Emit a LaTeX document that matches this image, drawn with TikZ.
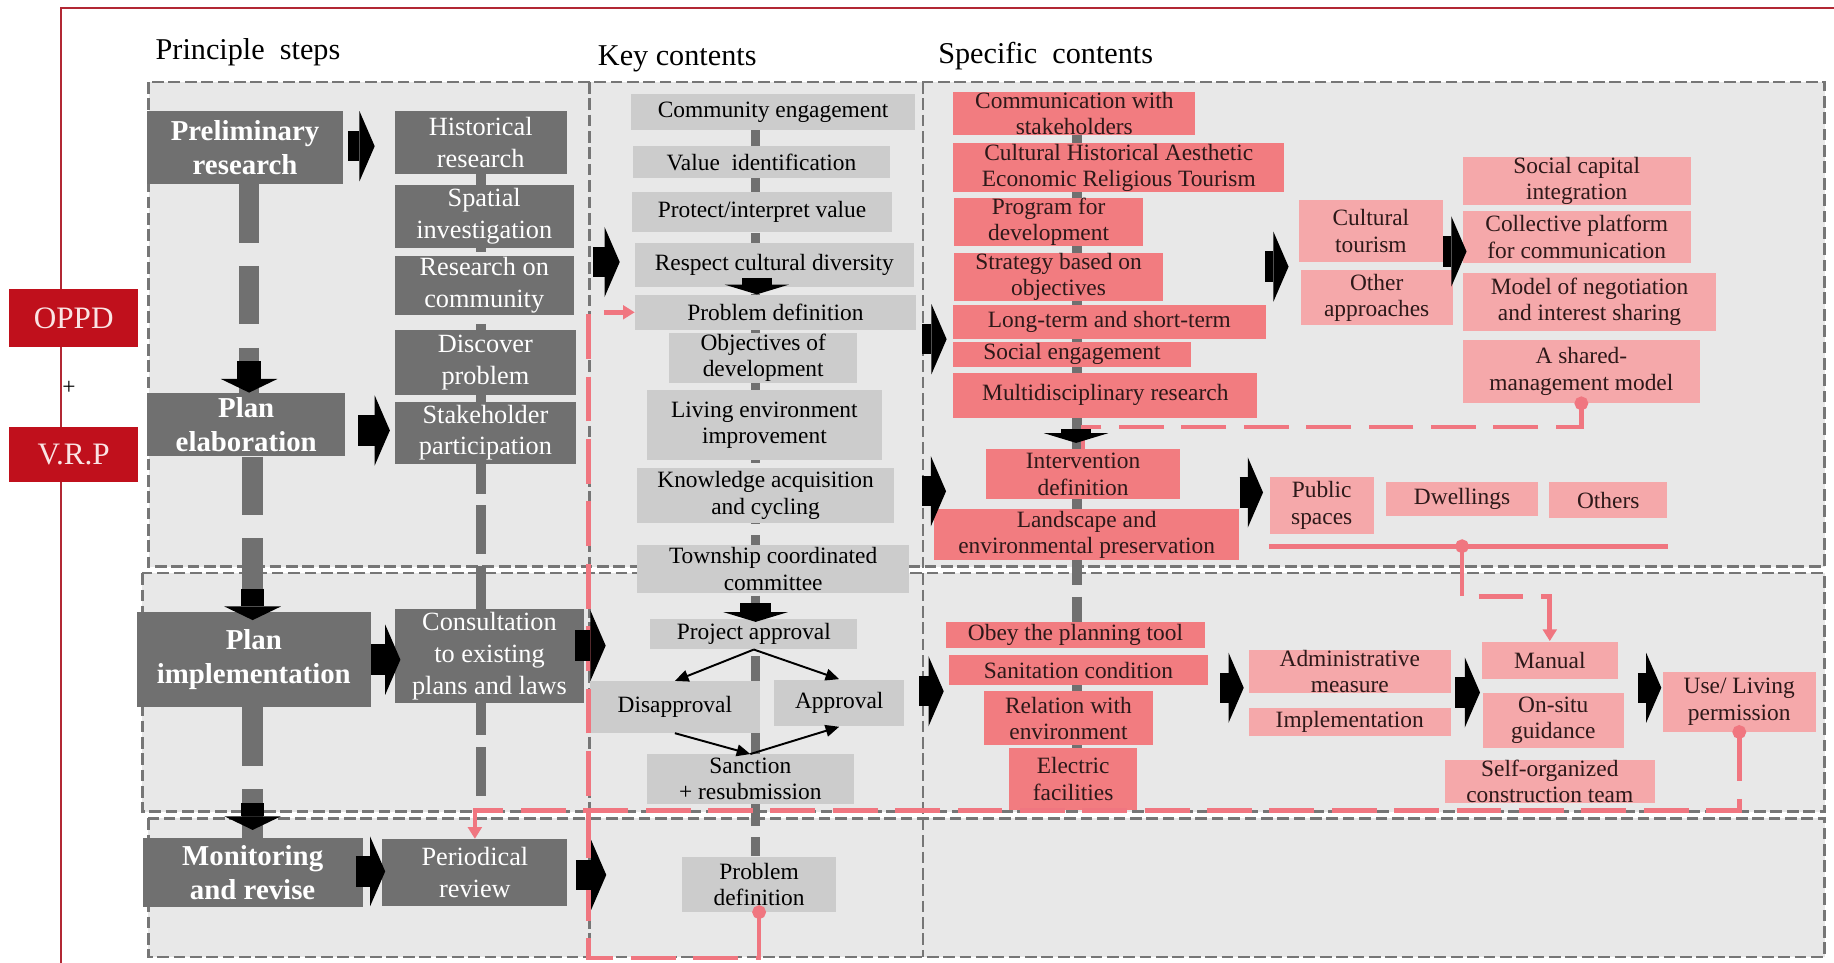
\documentclass[tikz,border=0pt]{standalone}
\usepackage{fontspec}
\setmainfont{Liberation Serif}
\usetikzlibrary{arrows.meta}

\definecolor{framered}{RGB}{178,40,52}
\definecolor{oppdred}{RGB}{192,16,28}
\definecolor{panel}{RGB}{232,232,232}
\definecolor{panelline}{RGB}{118,118,118}
\definecolor{stepgrey}{RGB}{112,112,112}
\definecolor{keygrey}{RGB}{204,204,204}
\definecolor{salmon}{RGB}{242,124,128}
\definecolor{blush}{RGB}{245,168,170}
\definecolor{linkpink}{RGB}{240,118,128}
\definecolor{inkbrown}{RGB}{45,25,25}

\begin{document}
\begin{tikzpicture}[x=0.6pt, y=-0.6pt,
    every node/.style={inner sep=0pt, align=center},
    sz/.style 2 args={minimum width=#1*0.6pt, minimum height=#2*0.6pt},
    headfont/.style={font=\fontsize{15.5}{18}\selectfont},
    redbox/.style={fill=oppdred, text={rgb,255:red,250;green,228;blue,228}, font=\fontsize{16}{18}\selectfont},
    stepbox/.style={fill=stepgrey, text=white, font=\fontsize{14.8}{17.5}\selectfont\bfseries},
    subbox/.style={fill=stepgrey, text=white, font=\fontsize{13.5}{16.2}\selectfont},
    keybox/.style={fill=keygrey, text=black, font=\fontsize{12}{13.5}\selectfont},
    specbox/.style={fill=salmon, text=inkbrown, font=\fontsize{12}{13.5}\selectfont},
    lightbox/.style={fill=blush, text=inkbrown, font=\fontsize{12}{13.5}\selectfont},
    panelbox/.style={fill=panel, draw=panelline, line width=1.3pt, dash pattern=on 6pt off 2.4pt},
    flowbar/.style={draw=stepgrey, line width=10.5pt, dash pattern=on 30pt off 12pt},
    thinbar/.style={draw=stepgrey, line width=5pt, dash pattern=on 25pt off 6pt},
    pinklink/.style={draw=linkpink, line width=2.4pt, dash pattern=on 23pt off 9pt},
    pinkline/.style={draw=linkpink, line width=2.4pt},
    pinktips/.style={shorten <=-3.5pt, {Circle[length=7pt]}-{Triangle[length=6pt,width=7pt]}},
    fan/.style={line width=1pt, -{Triangle[length=7pt,width=6pt]}},
    blkright/.style={line width=15.6pt, -{Triangle[line width=0pt, length=7.8pt, width=36pt]}},
    blkdown/.style={line width=12pt, -{Triangle[line width=0pt, length=7pt, width=29pt]}},
    blkshort/.style={line width=15.6pt, -{Triangle[line width=0pt, length=5pt, width=33pt]}}]

\useasboundingbox (0,0) rectangle (1568,823);

% frame and panels
\draw[framered, line width=1.1pt] (52,823) -- (52,7) -- (1568,7);
\draw[panelbox] (127,70) rectangle (1560,484.5);
\draw[panelbox] (121.7,490) rectangle (1560,694);
\draw[panelbox] (126.8,699.6) rectangle (1560,818);
\draw[panelline, line width=1.3pt, dash pattern=on 6pt off 2.4pt] (504,70) -- (504,818) (789,70) -- (789,818);

\node[headfont] (hsteps) at (212,45) {Principle~~steps};
\node[headfont] (hkey) at (579,50) {Key contents};
\node[headfont] (hspec) at (894,48) {Specific~~contents};

\node[redbox, sz={110}{49}] (oppd) at (63,272) {OPPD};
\node[font=\fontsize{12}{14}\selectfont] (plus) at (59,332) {+};
\node[redbox, sz={110}{47}] (vrp) at (63,388.5) {V.R.P};

\node[stepbox, sz={167}{62}] (prelim) at (209.5,126) {Preliminary\\research};
\node[stepbox, sz={169}{54}] (elab) at (210.5,363) {Plan\\elaboration};
\node[stepbox, sz={200}{81}] (impl) at (217,564) {Plan\\implementation};
\node[stepbox, sz={188}{59}] (monit) at (216,746) {Monitoring\\and revise};

% grey flow lines behind the boxes
\draw[flowbar] (prelim.south -| 213,0) -- (elab.north -| 213,0);
\draw[flowbar] (elab.south -| 216,0) -- (impl.north -| 216,0);
\draw[flowbar] (impl.south -| 216,0) -- (monit.north -| 216,0);
\draw[thinbar] (411,122) -- (411,690);
\draw[thinbar] (646,96) -- (646,732);
\draw[thinbar] (921,97) -- (921,690);

\node[subbox, sz={147}{54}] (hist) at (411,122) {Historical\\research};
\node[subbox, sz={153}{54}] (spatial) at (414,185) {Spatial\\investigation};
\node[subbox, sz={153}{50}] (rescom) at (414,244) {Research on\\community};
\node[subbox, sz={155}{56}] (discov) at (415,310) {Discover\\problem};
\node[subbox, sz={155}{53}] (stake) at (415,370) {Stakeholder\\participation};
\node[subbox, sz={162}{80}] (consult) at (418.5,561) {Consultation\\to existing\\plans and laws};
\node[subbox, sz={158}{57}] (review) at (406,746) {Periodical\\review};

\node[keybox, sz={243}{31}] (commeng) at (661,96) {Community engagement};
\node[keybox, sz={220}{28}] (valueid) at (651,138.5) {Value~~identification};
\node[keybox, sz={223}{34}] (protect) at (651.5,181) {Protect/interpret value};
\node[keybox, sz={239}{38}] (respect) at (662,226.5) {Respect cultural diversity};
\node[keybox, sz={240}{30}] (probdef) at (663,267) {Problem definition};
\node[keybox, sz={161}{43}] (objdev) at (652.5,306) {Objectives of\\development};
\node[keybox, sz={201}{60}] (living) at (653.5,363.5) {Living environment\\improvement};
\node[keybox, sz={219}{47}] (knowl) at (654.5,423.5) {Knowledge acquisition\\and cycling};
\node[keybox, sz={232}{41}] (township) at (661,486.5) {Township coordinated\\committee};
\node[keybox, sz={177}{26}] (projapp) at (644.5,542) {Project approval};
\node[keybox, sz={145}{44}] (disapp) at (577,604.5) {Disapproval};
\node[keybox, sz={111}{40}] (approv) at (717.5,601) {Approval};
\node[keybox, sz={177}{42}] (sanction) at (641.5,666) {Sanction\\+ resubmission};
\node[keybox, sz={132}{47}] (probdefb) at (649,756) {Problem\\definition};

\node[specbox, sz={207}{37}] (commst) at (918.5,97) {Communication with\\stakeholders};
\node[specbox, sz={283}{42}] (values) at (956.5,143.5) {Cultural Historical Aesthetic\\Economic Religious Tourism};
\node[specbox, sz={161}{38}] (program) at (896.5,189.5) {Program for\\development};
\node[specbox, sz={178}{38}] (strategy) at (905,237) {Strategy based on\\objectives};
\node[specbox, sz={267}{29}] (longterm) at (948.5,275.5) {Long-term and short-term};
\node[specbox, sz={203}{21}] (socialeng) at (916.5,303) {Social engagement};
\node[specbox, sz={260}{39}] (multi) at (945,338) {Multidisciplinary research};
\node[specbox, sz={166}{43}] (interv) at (926,405.5) {Intervention\\definition};
\node[specbox, sz={261}{44}] (landsc) at (929,457) {Landscape and\\environmental preservation};
\node[specbox, sz={221}{22}] (obey) at (919.5,543) {Obey the planning tool};
\node[specbox, sz={222}{26}] (sanit) at (922,573) {Sanitation condition};
\node[specbox, sz={145}{46}] (relenv) at (913.5,614) {Relation with\\environment};
\node[specbox, sz={109}{53}] (electric) at (917.5,666) {Electric\\facilities};

\node[lightbox, sz={123}{53}] (cultour) at (1172,197.5) {Cultural\\tourism};
\node[lightbox, sz={130}{47}] (otherapp) at (1177,254.5) {Other\\approaches};
\node[lightbox, sz={195}{40}] (socap) at (1348,154.5) {Social capital\\integration};
\node[lightbox, sz={195}{45}] (collect) at (1348,202.5) {Collective platform\\for communication};
\node[lightbox, sz={216}{50}] (nego) at (1359,258) {Model of negotiation\\and interest sharing};
\node[lightbox, sz={202}{54}] (shared) at (1352,317.5) {A shared-\\management model};
\node[lightbox, sz={89}{49}] (public) at (1130,432) {Public\\spaces};
\node[lightbox, sz={130}{29}] (dwell) at (1250,426.5) {Dwellings};
\node[lightbox, sz={101}{31}] (others) at (1375,427.5) {Others};
\node[lightbox, sz={173}{36}] (admin) at (1154,574) {Administrative\\measure};
\node[lightbox, sz={173}{24}] (implem) at (1154,617.5) {Implementation};
\node[lightbox, sz={116}{32}] (manual) at (1325,564.5) {Manual};
\node[lightbox, sz={121}{47}] (onsitu) at (1328,616) {On-situ\\guidance};
\node[lightbox, sz={180}{34}] (selforg) at (1325,668) {Self-organized\\construction team};
\node[lightbox, sz={131}{51}] (uselive) at (1487,600) {Use/ Living\\permission};

% feedback loops
\coordinate (loopcorner) at (503,819);
\draw[pinklink, shorten <=-3.5pt, {Circle[length=7pt]}-] (shared.south) |- (interv.north |- 0,365) -- (interv.north);
\draw[pinkline] (public.south west |- 0,467) -- (others.south east |- 0,467);
\draw[pinklink, pinktips] (dwell.south |- 0,467) |- (manual.north |- 0,510) -- (manual.north);
\draw[pinklink, pinktips] (uselive.south) |- (review.north |- 0,693) -- (review.north);
\draw[pinklink, pinktips] (probdefb.south) |- (loopcorner) |- (probdef.west);

\draw[fan] (projapp.south) -- (disapp.north);
\draw[fan] (projapp.south) -- (approv.north);
\draw[fan] (disapp.south) -- (sanction.north);
\draw[fan] (sanction.north) -- (approv.south);

\draw[blkright] ([shift={(4,-1)}]prelim.east) -- ++(23,0);
\draw[blkright] ([shift={(11,5)}]elab.east) -- ++(27,0);
\draw[blkright] (impl.east) -- ++(25,0);
\draw[blkright] ([shift={(-6,-1)}]monit.east) -- ++(25,0);
\draw[blkright] ([shift={(16,-20)}]rescom.east) -- ++(23,0);
\draw[blkright] ([shift={(-8,-9)}]consult.east) -- ++(26,0);
\draw[blkright] ([shift={(7,2)}]review.east) -- ++(26,0);
\draw[blkright] ([shift={(5,23)}]probdef.east) -- ++(21,0);
\draw[blkright] ([shift={(23.5,-3.5)}]knowl.east) -- ++(21,0);
\draw[blkright] ([shift={(12.5,-10)}]approv.east) -- ++(21,0);
\draw[blkright] ([shift={(-28.5,30.5)}]cultour.west) -- ++(20,0);
\draw[blkright] ([shift={(0,17.5)}]cultour.east) -- ++(20,0);
\draw[blkright] ([shift={(0,-36)}]landsc.east) -- ++(20,0);
\draw[blkright] ([shift={(10,15)}]sanit.east) -- ++(20,0);
\draw[blkright] ([shift={(3.5,18)}]admin.east) -- ++(21,0);
\draw[blkright] ([shift={(17,23.5)}]manual.east) -- ++(20,0);

\draw[blkdown] ([shift={(2.5,-27)}]elab.north) -- ++(0,27);
\draw[blkdown] ([shift={(-1,-20)}]impl.north) -- ++(0,27);
\draw[blkdown] ([shift={(0,-29.6)}]monit.north) -- ++(0,23);
\draw[blkshort] ([shift={(-16,-14)}]probdef.north) -- ++(0,14);
\draw[blkshort] ([shift={(1.5,-13)}]projapp.north) -- ++(0,16);
\draw[blkshort] ([shift={(-6,-17)}]interv.north) -- ++(0,12);

\end{tikzpicture}
\end{document}
